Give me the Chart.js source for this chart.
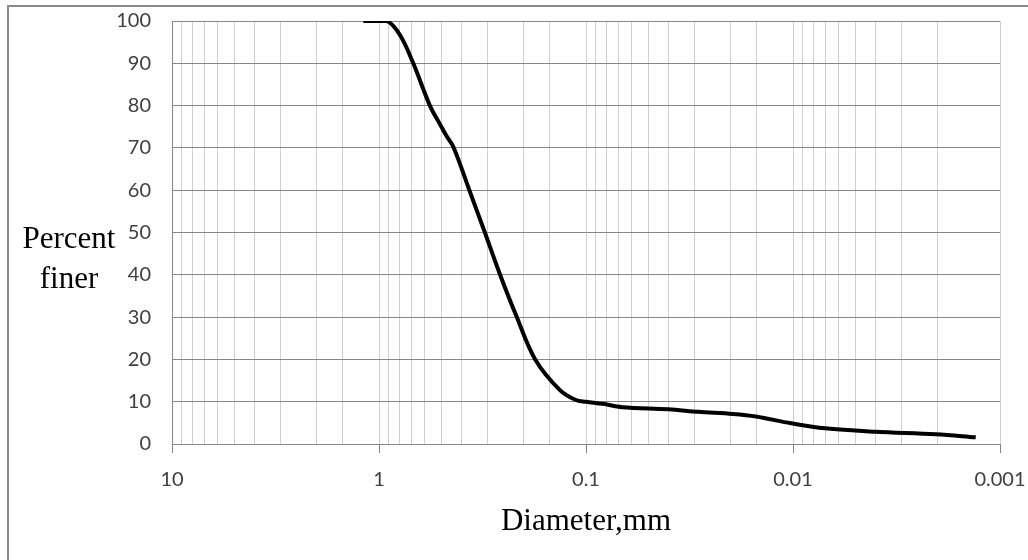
<!DOCTYPE html>
<html>
<head>
<meta charset="utf-8">
<script src="https://cdn.jsdelivr.net/npm/chart.js@4"></script>
<style>
    body { margin: 0; background: #fff; overflow: hidden; }
    #frame {
        position: absolute; left: 7px; top: 5px;
        width: 1100px; height: 600px;
        border: 2px solid #8a8a8a;
    }
    #chart { position: absolute; left: 0; top: 0; }
</style>
</head>
<body>
<div id="frame"></div>
<canvas id="chart" width="1028" height="560"></canvas>
<script>
// grain size distribution
const diameters = [1.19, 0.918, 0.792, 0.683, 0.568, 0.51, 0.47, 0.435, 0.366, 0.308, 0.26, 0.216, 0.176,
    0.134, 0.112, 0.1, 0.083, 0.067, 0.04, 0.0286, 0.0195, 0.0151, 0.0102, 0.007, 0.004, 0.00204, 0.00131];
const percentFiner = [100, 100, 96.7, 90, 80, 75.8, 72.7, 70, 60, 50, 40, 30, 20,
    12.8, 10.4, 10, 9.5, 8.7, 8.2, 7.6, 7.1, 6.5, 4.9, 3.7, 2.9, 2.3, 1.6];
const yTicks = [0, 10, 20, 30, 40, 50, 60, 70, 80, 90, 100];

const points = diameters.map((d, i) => ({ x: d, y: percentFiner[i] }));

function isDecade(v) {
    const l = Math.log10(v);
    return Math.abs(l - Math.round(l)) < 1e-9;
}

// horizontal "Percent finer" label left of the y ticks
const sideLabel = {
    id: "sideLabel",
    afterDraw(chart) {
        const ctx = chart.ctx;
        ctx.save();
        ctx.font = '31px "Liberation Serif"';
        ctx.fillStyle = "#000";
        ctx.textAlign = "center";
        ctx.textBaseline = "alphabetic";
        ctx.fillText("Percent", 69, 248);
        ctx.fillText("finer", 69, 288);
        ctx.restore();
    }
};

const tickFont = { family: "Lato", size: 20 };

new Chart(document.getElementById("chart"), {
    type: "line",
    data: {
        datasets: [{
            data: points,
            borderColor: "#000",
            borderWidth: 4,
            pointRadius: 0,
            fill: false,
            tension: 0.35
        }]
    },
    options: {
        responsive: false,
        animation: false,
        layout: { padding: { left: 0, top: 21, right: 28, bottom: 0 } },
        plugins: { legend: { display: false }, tooltip: { enabled: false } },
        scales: {
            x: {
                type: "logarithmic",
                reverse: true,
                min: 0.001,
                max: 10,
                afterFit: s => {
                    s.height = 116;
                    s.paddingLeft = 0;
                    s.paddingRight = 0;
                },
                ticks: {
                    autoSkip: false,
                    maxRotation: 0,
                    minRotation: 0,
                    padding: 15,
                    color: "#404040",
                    font: tickFont,
                    callback: v => isDecade(v) ? String(Number(v.toPrecision(1))) : ""
                },
                grid: {
                    color: "#cfcfcf",
                    lineWidth: 1,
                    tickLength: 9,
                    tickColor: c => (c.tick && isDecade(c.tick.value)) ? "#868686" : "rgba(0,0,0,0)"
                },
                border: { color: "#868686", width: 1 },
                title: {
                    display: true,
                    text: "Diameter,mm",
                    color: "#000",
                    font: { family: "Liberation Serif", size: 31 },
                    padding: { top: 0, bottom: 20 }
                }
            },
            y: {
                min: 0,
                max: 100,
                afterFit: s => {
                    s.width = 172;
                    s.paddingTop = 0;
                    s.paddingBottom = 0;
                },
                afterBuildTicks: s => { s.ticks = yTicks.map(v => ({ value: v })); },
                ticks: {
                    padding: 21,
                    color: "#404040",
                    font: tickFont
                },
                grid: { color: "#868686", lineWidth: 1, drawTicks: false },
                border: { color: "#868686", width: 1 }
            }
        }
    },
    plugins: [sideLabel]
});
</script>
</body>
</html>
